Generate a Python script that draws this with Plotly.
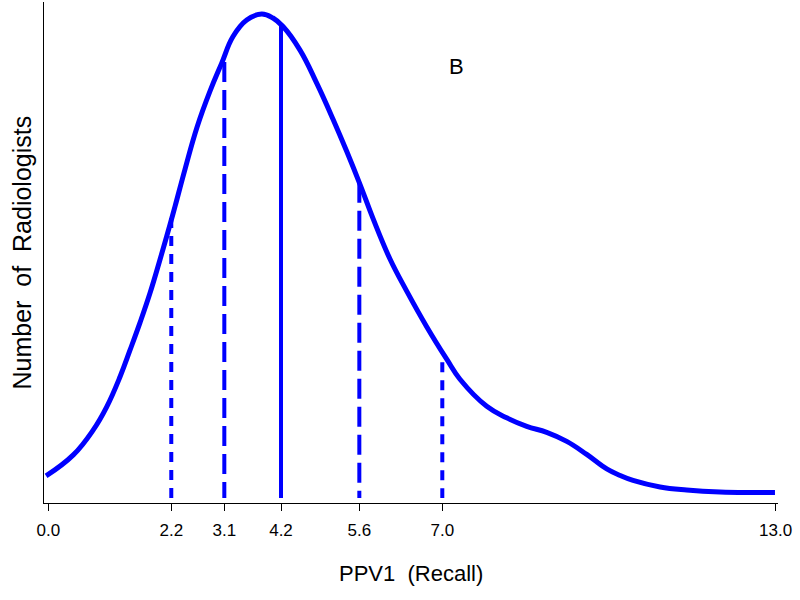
import plotly.graph_objects as go

# Density curve (x = PPV1 recall, y = relative number of radiologists)
curve_x = [-0.04, 0.447, 0.804, 1.044, 1.282, 1.460, 1.639, 1.818, 1.997, 2.176, 2.265,
           2.443, 2.658, 2.890, 3.099, 3.301, 3.546, 3.814, 4.016, 4.195, 4.499, 4.797,
           5.089, 5.333, 5.571, 5.803, 6.107, 6.406, 6.763, 7.121, 7.358, 7.836, 8.193,
           8.551, 8.908, 9.266, 9.623, 9.981, 10.22, 10.451, 10.934, 11.410, 12.006,
           12.595, 12.988]
curve_y = [0.054, 0.096, 0.146, 0.192, 0.252, 0.305, 0.360, 0.419, 0.486, 0.556, 0.592,
           0.666, 0.750, 0.822, 0.878, 0.931, 0.964, 0.976, 0.968, 0.951, 0.904, 0.838,
           0.766, 0.702, 0.636, 0.568, 0.487, 0.423, 0.352, 0.287, 0.247, 0.193, 0.170,
           0.153, 0.141, 0.123, 0.097, 0.068, 0.055, 0.045, 0.032, 0.026, 0.022, 0.021,
           0.021]

# Percentile reference lines (10th, 25th, median, 75th, 90th)
pct_x = [2.198, 3.146, 4.159, 5.559, 7.042]
pct_top = [0.569, 0.880, 0.954, 0.639, 0.281]
pct_bottom = [0.010, 0.010, 0.010, 0.010, 0.010]
pct_dash = ["10px,8px", "20px,8px", "solid", "20px,8px", "10px,8px"]

tick_vals = [0.0, 2.198, 3.146, 4.159, 5.559, 7.042, 13.0]
tick_text = ["0.0", "2.2", "3.1", "4.2", "5.6", "7.0", "13.0"]

BLUE = "#0000FF"
FONT = "Liberation Sans, Arial, sans-serif"

fig = go.Figure()
fig.add_trace(go.Scatter(x=curve_x, y=curve_y, mode="lines",
                         line=dict(color=BLUE, width=5, shape="spline", smoothing=1.2),
                         hoverinfo="skip", showlegend=False))
for xv, top, bot, dash in zip(pct_x, pct_top, pct_bottom, pct_dash):
    fig.add_trace(go.Scatter(x=[xv, xv], y=[top, bot], mode="lines",
                             line=dict(color=BLUE, width=4, dash=dash),
                             hoverinfo="skip", showlegend=False))

fig.update_layout(
    width=800, height=600,
    margin=dict(l=44, r=22, t=2, b=97),
    paper_bgcolor="white", plot_bgcolor="white",
    xaxis=dict(range=[-0.077, 13.042], showgrid=False, zeroline=False,
               showline=True, linecolor="black", linewidth=1,
               ticks="outside", ticklen=7, tickwidth=1, tickcolor="black",
               ticklabelstandoff=5,
               tickmode="array", tickvals=tick_vals, ticktext=tick_text,
               tickfont=dict(family=FONT, size=17, color="black")),
    yaxis=dict(range=[0, 1], showgrid=False, zeroline=False,
               showline=True, linecolor="black", linewidth=1,
               ticks="", showticklabels=False),
    annotations=[
        dict(text="PPV1\u00a0 (Recall)", xref="paper", yref="paper", x=0.5, y=0,
             xanchor="center", yanchor="top", yshift=-56, showarrow=False,
             font=dict(family=FONT, size=22, color="black")),
        dict(text="Number\u00a0\u00a0of\u00a0\u00a0Radiologists", xref="paper", yref="paper",
             x=0, y=0.5, xanchor="center", yanchor="middle", xshift=-23,
             textangle=-90, showarrow=False,
             font=dict(family=FONT, size=25, color="black")),
        dict(text="B", xref="x", yref="y", x=7.30, y=0.872,
             xanchor="center", yanchor="middle", showarrow=False,
             font=dict(family=FONT, size=22, color="black")),
    ],
)

fig.write_html("out.html")
